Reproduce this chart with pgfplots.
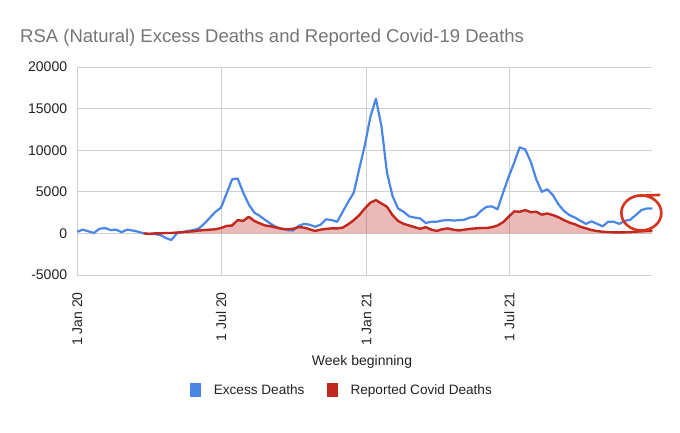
\documentclass[border=0pt]{standalone}
\usepackage{fontspec}
\setmainfont{Liberation Sans}
\usepackage{pgfplots}
\usepackage{pgfplotstable}
\pgfplotsset{compat=1.18}
\definecolor{gsblue}{HTML}{4A86E8}
\definecolor{gsred}{HTML}{C0271E}
\definecolor{circ}{HTML}{D6341F}
\definecolor{titlegray}{HTML}{757575}
\definecolor{txt}{HTML}{222222}
\definecolor{gridc}{HTML}{D0D0D0}
\definecolor{zeroc}{HTML}{333333}

% x = days since 1 Jan 2020 (weekly points)
\pgfplotstableread{
x y
0 200
7 450
14 250
21 50
28 550
35 650
42 400
49 450
56 150
63 450
70 350
77 200
84 0
91 -80
98 -80
105 -200
112 -550
119 -800
126 0
133 150
140 300
147 400
154 600
161 1200
168 1900
175 2600
182 3100
189 4800
196 6500
203 6600
210 4900
217 3500
224 2500
231 2100
238 1600
245 1150
252 750
259 550
266 400
273 350
280 900
287 1150
294 1050
301 800
308 1050
315 1700
322 1600
329 1400
336 2600
343 3800
350 4900
357 7800
364 10600
371 14000
378 16200
385 12900
392 7300
399 4500
406 3000
413 2600
420 2050
427 1900
434 1800
441 1250
448 1400
455 1400
462 1550
469 1600
476 1550
483 1580
490 1650
497 1900
504 2050
511 2700
518 3200
525 3250
532 2900
539 4900
546 6800
553 8500
560 10350
567 10100
574 8600
581 6500
588 5000
595 5300
602 4600
609 3500
616 2700
623 2200
630 1900
637 1500
644 1150
651 1450
658 1150
665 850
672 1400
679 1400
686 1150
693 1500
700 1650
707 2200
714 2800
721 3000
728 3000
}\excess

\pgfplotstableread{
x y
84 0
91 -50
98 0
105 0
112 50
119 50
126 100
133 150
140 200
147 250
154 350
161 400
168 450
175 500
182 650
189 900
196 950
203 1600
210 1500
217 2000
224 1500
231 1200
238 950
245 850
252 700
259 550
266 500
273 550
280 750
287 700
294 500
301 300
308 450
315 550
322 600
329 600
336 700
343 1100
350 1600
357 2200
364 3000
371 3700
378 4000
385 3600
392 3200
399 2200
406 1500
413 1150
420 950
427 750
434 550
441 750
448 450
455 300
462 500
469 600
476 450
483 350
490 450
497 550
504 600
511 650
518 650
525 750
532 950
539 1350
546 2000
553 2650
560 2600
567 2800
574 2550
581 2600
588 2250
595 2400
602 2200
609 1950
616 1600
623 1300
630 1100
637 800
644 600
651 400
658 280
665 200
672 150
679 120
686 120
693 130
700 150
707 200
714 250
721 300
728 350
}\covid

\begin{document}
\begin{tikzpicture}
\path[use as bounding box] (0pt,0pt) rectangle (680pt,432pt);
\node[anchor=base west, font=\fontsize{18.5}{20}\selectfont, text=titlegray, inner sep=0pt] at (20pt,389pt) {RSA (Natural) Excess Deaths and Reported Covid-19 Deaths};
\node[anchor=center, font=\fontsize{14}{16}\selectfont, text=txt, inner sep=0pt] at (362pt,70pt) {Week beginning};
\begin{axis}[
  at={(77.3pt,157pt)}, anchor=south west,
  scale only axis, width=575.1pt, height=208pt,
  xmin=0, xmax=728, ymin=-5000, ymax=20000,
  ytick={-5000,0,5000,10000,15000,20000},
  yticklabels={-5000,0,5000,10000,15000,20000},
  scaled y ticks=false,
  xtick={0,182,366,547},
  xticklabels={1 Jan 20,1 Jul 20,1 Jan 21,1 Jul 21},
  /pgf/number format/assume math mode=true,
  major tick length=0pt,
  axis line style={draw=none},
  grid=major,
  major grid style={draw=gridc, line width=0.9pt},
  extra y ticks={-5000,0},
  extra y tick labels={},
  extra y tick style={grid style={draw=zeroc, line width=1.6pt}},
  x tick label style={rotate=90, anchor=east, inner sep=0pt, font=\fontsize{14}{16}\selectfont, text=txt},
  xticklabel shift=17pt,
  y tick label style={anchor=east, inner sep=0pt, font=\fontsize{14}{16}\selectfont, text=txt},
  yticklabel shift=10pt,
  clip=false,
  legend columns=2,
  legend style={at={(0.46,-0.553)}, anchor=center, draw=none, fill=none,
    font=\fontsize{13.6}{16}\selectfont, text=txt,
    /tikz/every odd column/.append style={column sep=11pt},
    /tikz/every even column/.append style={column sep=20pt}},
  legend image code/.code={\fill[#1] (0pt,-6.5pt) rectangle (11pt,7pt);},
]
\addlegendimage{draw=none, fill=gsblue}
\addlegendentry{Excess Deaths}
\addlegendimage{draw=none, fill=gsred}
\addlegendentry{Reported Covid Deaths}
\addplot[forget plot, draw=none, fill=gsred, fill opacity=0.32] table[x=x,y=y] {\covid} \closedcycle;
\addplot[forget plot, gsblue, line width=2.2pt, line join=round] table[x=x,y=y] {\excess};
\addplot[forget plot, gsred, line width=2.4pt, line join=round] table[x=x,y=y] {\covid};
\coordinate (c) at (axis cs:714,2460);
\end{axis}
\draw[circ, line width=2.6pt] (c) ellipse [x radius=20pt, y radius=17.5pt];
\draw[circ, line width=2.6pt, line cap=round] ([xshift=-4pt,yshift=17pt]c) -- ([xshift=18pt,yshift=18pt]c);
\end{tikzpicture}
\end{document}
